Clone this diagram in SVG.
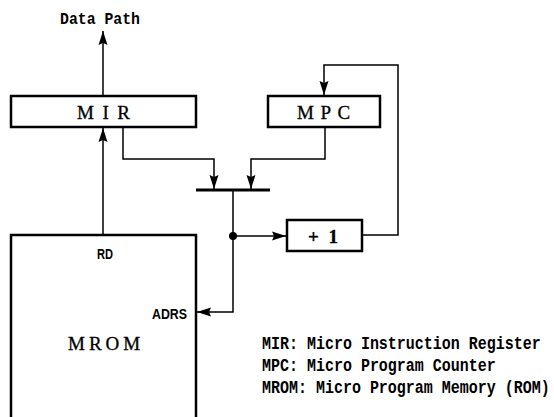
<svg xmlns="http://www.w3.org/2000/svg" width="554" height="417" viewBox="0 0 554 417">
<style>
.box{fill:#fff;stroke:#000;stroke-width:2.5}
.wire{fill:none;stroke:#000;stroke-width:1.5}
.ser{font-family:"Liberation Serif",serif;font-size:19px;fill:#000;stroke:#000;stroke-width:0.3}
.mono{font-family:"Liberation Mono",monospace;font-weight:bold;font-size:17px;fill:#000}
.leg{font-family:"Liberation Mono",monospace;font-weight:bold;font-size:15px;fill:#000}
.lbl{font-family:"Liberation Sans",sans-serif;font-weight:bold;font-size:15px;fill:#000}
</style>
<defs>
<marker id="ah" markerWidth="14" markerHeight="10" refX="14" refY="5" orient="auto" markerUnits="userSpaceOnUse" viewBox="0 0 14 10">
<path d="M0,0.5 L14,5 L0,9.5 L2,5 Z" fill="#000"/>
</marker>
</defs>
<g id="connectors">
<line class="wire" x1="103" y1="96" x2="103" y2="31" marker-end="url(#ah)"/>
<line class="wire" x1="103" y1="235" x2="103" y2="128" marker-end="url(#ah)"/>
<polyline class="wire" points="123,128 123,159 214,159 214,189" marker-end="url(#ah)"/>
<polyline class="wire" points="325,128 325,159 251,159 251,189" marker-end="url(#ah)"/>
<line x1="196" y1="190" x2="270" y2="190" stroke="#000" stroke-width="3"/>
<polyline class="wire" points="233,190 233,312 197,312" marker-end="url(#ah)"/>
<line class="wire" x1="233" y1="236" x2="286" y2="236" marker-end="url(#ah)"/>
<polyline class="wire" points="362,235 398,235 398,65 324,65 324,95" marker-end="url(#ah)"/>
<circle cx="233" cy="236" r="4" fill="#000"/>
</g>
<g id="datapath"><text class="mono" x="60" y="24" textLength="80" lengthAdjust="spacingAndGlyphs">Data Path</text></g>
<g id="mir"><rect class="box" x="11" y="96" width="185" height="31"/><text class="ser" x="77" y="119" style="letter-spacing:8.5px">MIR</text></g>
<g id="mpc"><rect class="box" x="268" y="96" width="112" height="31"/><text class="ser" x="297" y="119" style="letter-spacing:6.5px">MPC</text></g>
<g id="plus1"><rect class="box" x="287" y="220" width="75" height="31"/><text class="ser" x="308" y="243" style="letter-spacing:2.5px;font-weight:bold">+ 1</text></g>
<g id="mrom"><rect class="box" x="11" y="235" width="185" height="190"/>
<text class="lbl" x="97" y="259" textLength="16" lengthAdjust="spacingAndGlyphs">RD</text>
<text class="lbl" x="152" y="319" textLength="35" lengthAdjust="spacingAndGlyphs">ADRS</text>
<text class="ser" x="68" y="350" style="letter-spacing:4px">MROM</text></g>
<g id="legend">
<text class="leg" transform="translate(262,349) scale(1,1.2)">MIR: Micro Instruction Register</text>
<text class="leg" transform="translate(262,371) scale(1,1.2)">MPC: Micro Program Counter</text>
<text class="leg" transform="translate(262,393) scale(1,1.2)">MROM: Micro Program Memory (ROM)</text>
</g>
</svg>
